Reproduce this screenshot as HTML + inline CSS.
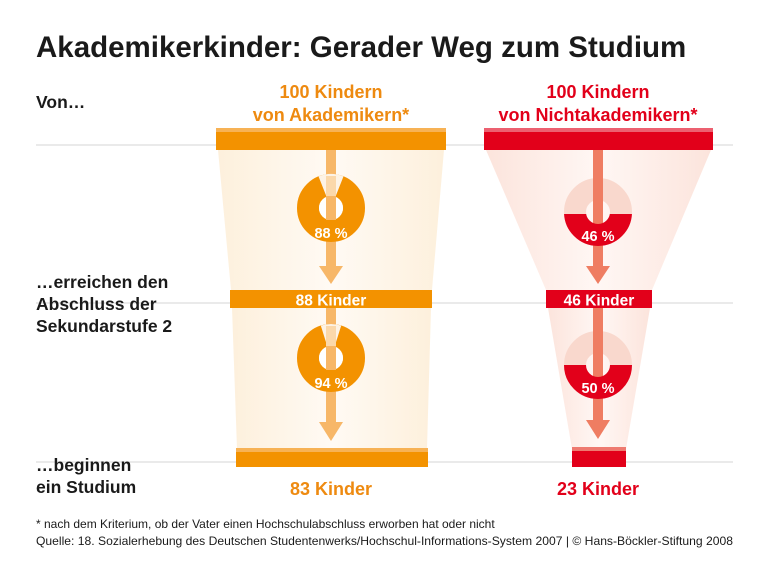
<!DOCTYPE html>
<html><head><meta charset="utf-8"><style>
body{margin:0;background:#fff}
svg{display:block;font-family:"Liberation Sans",Arial,sans-serif}
</style></head><body>
<svg width="768" height="577" viewBox="0 0 768 577">
<defs>
<linearGradient id="go" x1="0" x2="1"><stop offset="0" stop-color="#fdf0dc"/><stop offset="0.5" stop-color="#fffaf4"/><stop offset="1" stop-color="#fdf0dc"/></linearGradient>
<linearGradient id="gr" x1="0" x2="1"><stop offset="0" stop-color="#fce4dc"/><stop offset="0.5" stop-color="#fff7f4"/><stop offset="1" stop-color="#fce4dc"/></linearGradient>
<clipPath id="c1"><rect x="560" y="214" width="80" height="40"/></clipPath>
<clipPath id="c2"><rect x="560" y="365" width="80" height="40"/></clipPath>
</defs>
<rect width="768" height="577" fill="#fff"/>
<text x="36" y="57" font-size="29.5" font-weight="bold" fill="#1a1a1a">Akademikerkinder: Gerader Weg zum Studium</text>
<text x="36" y="108" font-size="17.5" font-weight="bold" fill="#1a1a1a">Von…</text>
<g stroke="#ddd" stroke-width="1.2">
<line x1="36" y1="145" x2="733" y2="145"/><line x1="36" y1="303" x2="733" y2="303"/><line x1="36" y1="462" x2="733" y2="462"/></g>
<g font-size="18" font-weight="bold" fill="#ee8a10" text-anchor="middle">
<text x="331" y="98">100 Kindern</text><text x="331" y="121">von Akademikern*</text></g>
<g font-size="18" font-weight="bold" fill="#e2001a" text-anchor="middle">
<text x="598" y="98">100 Kindern</text><text x="598" y="121">von Nichtakademikern*</text></g>
<g font-size="17.5" font-weight="bold" fill="#1a1a1a">
<text x="36" y="288">…erreichen den</text><text x="36" y="310">Abschluss der</text><text x="36" y="332">Sekundarstufe 2</text>
<text x="36" y="471">…beginnen</text><text x="36" y="493">ein Studium</text></g>
<!-- orange funnels -->
<polygon points="218,150 444,150 432,290 231,290" fill="url(#go)"/>
<polygon points="232,308 431,308 427,449 237,449" fill="url(#go)"/>
<rect x="216" y="128" width="230" height="22" fill="#f39200"/>
<rect x="216" y="128" width="230" height="4" fill="#f7b255"/>
<rect x="230" y="290" width="202" height="18" fill="#f39200"/>
<rect x="236" y="448" width="192" height="19" fill="#f39200"/>
<rect x="236" y="448" width="192" height="4" fill="#f7b255"/>
<text x="331" y="305.5" font-size="15.5" font-weight="bold" fill="#fff" text-anchor="middle">88 Kinder</text>
<g fill="#f7b768">
<rect x="326" y="150" width="10" height="118"/><polygon points="319,266 343,266 331,284"/>
<rect x="326" y="308" width="10" height="116"/><polygon points="319,422 343,422 331,441"/></g>
<circle cx="331" cy="208" r="23" fill="none" stroke="#f39200" stroke-width="22"/>
<path d="M331,208 L318.5,176.4 A34 34 0 0 1 343.5,176.4 Z" fill="#fdf3e6"/>
<rect x="326" y="176" width="10" height="20" fill="#fbd8aa"/>
<circle cx="331" cy="208" r="12" fill="#fff"/><rect x="326" y="196" width="10" height="24" fill="#f7b768"/>
<circle cx="331" cy="358" r="23" fill="none" stroke="#f39200" stroke-width="22"/>
<path d="M331,358 L320.8,325.6 A34 34 0 0 1 341.2,325.6 Z" fill="#fdf3e6"/>
<rect x="326" y="326" width="10" height="20" fill="#fbd8aa"/>
<circle cx="331" cy="358" r="12" fill="#fff"/><rect x="326" y="346" width="10" height="24" fill="#f7b768"/>
<g font-size="14.5" font-weight="bold" fill="#fff" text-anchor="middle">
<text x="331" y="238">88 %</text><text x="331" y="388">94 %</text></g>
<!-- red funnels -->
<polygon points="486,150 711,150 652,290 546,290" fill="url(#gr)"/>
<polygon points="548,308 650,308 626,449 572,449" fill="url(#gr)"/>
<rect x="484" y="128" width="229" height="22" fill="#e2001a"/>
<rect x="484" y="128" width="229" height="4" fill="#ec6070"/>
<rect x="546" y="290" width="106" height="18" fill="#e2001a"/>
<rect x="572" y="447" width="54" height="20" fill="#e2001a"/>
<rect x="572" y="447" width="54" height="4" fill="#ee7a70"/>
<text x="599" y="305.5" font-size="15.5" font-weight="bold" fill="#fff" text-anchor="middle">46 Kinder</text>
<circle cx="598" cy="212" r="23" fill="none" stroke="#f9d8cd" stroke-width="22"/>
<circle cx="598" cy="365" r="23" fill="none" stroke="#f9d8cd" stroke-width="22"/>
<g fill="#ef7d62">
<rect x="593" y="150" width="10" height="118"/><polygon points="586,266 610,266 598,284"/>
<rect x="593" y="308" width="10" height="114"/><polygon points="586,420 610,420 598,439"/></g>
<circle cx="598" cy="212" r="23" fill="none" stroke="#e2001a" stroke-width="22" clip-path="url(#c1)"/>
<circle cx="598" cy="365" r="23" fill="none" stroke="#e2001a" stroke-width="22" clip-path="url(#c2)"/>
<g font-size="14.5" font-weight="bold" fill="#fff" text-anchor="middle">
<text x="598" y="241">46 %</text><text x="598" y="393">50 %</text></g>
<text x="331" y="495" font-size="18" font-weight="bold" fill="#ee8a10" text-anchor="middle">83 Kinder</text>
<text x="598" y="495" font-size="18" font-weight="bold" fill="#e2001a" text-anchor="middle">23 Kinder</text>
<g font-size="12" fill="#1a1a1a">
<text x="36" y="528">* nach dem Kriterium, ob der Vater einen Hochschulabschluss erworben hat oder nicht</text>
<text x="36" y="545" textLength="697" lengthAdjust="spacingAndGlyphs">Quelle: 18. Sozialerhebung des Deutschen Studentenwerks/Hochschul-Informations-System 2007 | © Hans-Böckler-Stiftung 2008</text></g>
</svg>
</body></html>
